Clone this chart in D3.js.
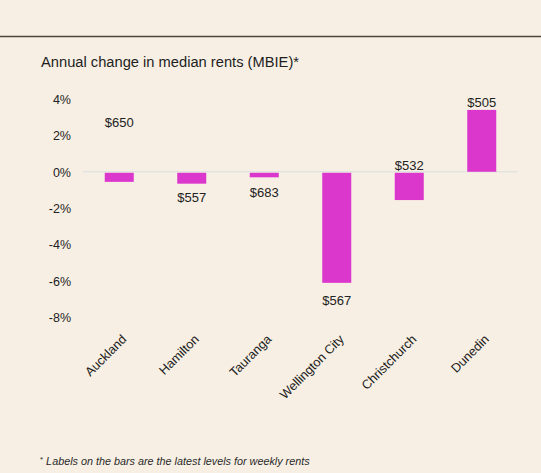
<!DOCTYPE html>
<html>
<head>
<meta charset="utf-8">
<script src="https://cdn.jsdelivr.net/npm/d3@7"></script>
<style>
  html, body { margin: 0; padding: 0; background: #f7efe3; }
  #chart { width: 541px; height: 473px; }
  text { font-family: "Liberation Sans", Arial, sans-serif; fill: #222; }
</style>
</head>
<body>
<div id="chart"></div>
<script>
// Chart data
const cities = ["Auckland", "Hamilton", "Tauranga", "Wellington City", "Christchurch", "Dunedin"];
const annualChange = [-0.5, -0.6, -0.25, -6.05, -1.5, 3.4];     // % change
const weeklyRent = ["$650", "$557", "$683", "$567", "$532", "$505"];
const labelLevel = [2.45, -1.68, -1.37, -7.32, 0.1, 3.58];       // where each rent label sits, in % units
const yTicks = [4, 2, 0, -2, -4, -6, -8];

const width = 541, height = 473;
const margin = { left: 83, right: 23, top: 99, bottom: 156 };

const svg = d3.select("#chart")
  .append("svg")
  .attr("width", width)
  .attr("height", height);

// top rule
svg.append("line")
  .attr("x1", 0).attr("x2", width)
  .attr("y1", 36.5).attr("y2", 36.5)
  .attr("stroke", "#4b463f")
  .attr("stroke-width", 1.6);

svg.append("text")
  .attr("x", 41)
  .attr("y", 67)
  .style("font-size", "14.7px")
  .style("fill", "#1e1e1e")
  .text("Annual change in median rents (MBIE)*");

const x = d3.scaleBand()
  .domain(cities)
  .range([margin.left, width - margin.right])
  .paddingInner(0.6)
  .paddingOuter(0.3);

const y = d3.scaleLinear()
  .domain([-8, 4])
  .range([height - margin.bottom + 0.3, margin.top]);

// y axis labels only
const yAxis = svg.append("g")
  .attr("transform", `translate(${margin.left - 12},0)`)
  .call(d3.axisLeft(y).tickValues(yTicks).tickSize(0).tickFormat(d => d + "%"));
yAxis.select(".domain").remove();
yAxis.selectAll("text")
  .attr("x", 0)
  .attr("dy", "0.35em")
  .style("font-size", "12.5px")
  .style("font-family", "'Liberation Sans', Arial, sans-serif")
  .style("fill", "#222");

// zero line
svg.append("line")
  .attr("x1", margin.left).attr("x2", width - margin.right)
  .attr("y1", y(0)).attr("y2", y(0))
  .attr("stroke", "#d9dde2")
  .attr("stroke-width", 1);

const rows = cities.map((c, i) => ({ city: c, value: annualChange[i], rent: weeklyRent[i], at: labelLevel[i] }));

svg.append("g")
  .selectAll("rect")
  .data(rows)
  .enter()
  .append("rect")
  .attr("x", d => x(d.city))
  .attr("width", x.bandwidth())
  .attr("y", d => y(Math.max(0, d.value)) + (d.value < 0 ? 1 : 0))
  .attr("height", d => Math.abs(y(d.value) - y(0)))
  .attr("fill", "#dc37cc");

svg.append("g")
  .selectAll("text")
  .data(rows)
  .enter()
  .append("text")
  .attr("x", d => x(d.city) + x.bandwidth() / 2)
  .attr("y", d => y(d.at))
  .attr("text-anchor", "middle")
  .style("font-size", "13px")
  .text(d => d.rent);

// x axis labels, rotated
const xAxis = svg.append("g")
  .attr("transform", `translate(0,${height - margin.bottom + 16})`)
  .call(d3.axisBottom(x).tickSize(0));
xAxis.select(".domain").remove();
xAxis.selectAll("text")
  .attr("text-anchor", "end")
  .attr("transform", "rotate(-45)")
  .attr("dx", "0.05em")
  .attr("dy", "0.6em")
  .style("font-size", "12.7px")
  .style("font-family", "'Liberation Sans', Arial, sans-serif")
  .style("fill", "#222");

// footnote
const note = svg.append("text")
  .attr("x", 40)
  .attr("y", 465)
  .style("font-size", "10.8px")
  .style("fill", "#2a2a2a");
note.append("tspan").attr("dy", "-3").style("font-size", "8px").text("*");
note.append("tspan").attr("dy", "3").style("font-style", "italic").text(" Labels on the bars are the latest levels for weekly rents");
</script>
</body>
</html>
